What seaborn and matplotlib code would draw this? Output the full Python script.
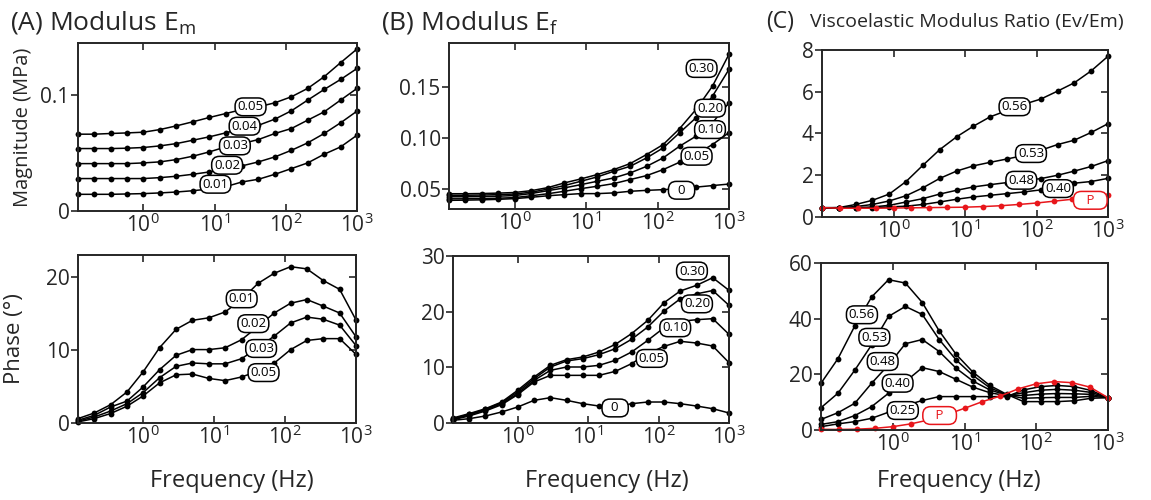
import matplotlib
matplotlib.use("Agg")
import matplotlib.pyplot as plt
import pandas as pd
import seaborn as sns
from matplotlib.ticker import NullLocator

# frequencies (Hz)
freq_ab = [0.121, 0.205, 0.349, 0.593, 1.0, 1.71, 2.92, 4.96, 8.43, 14.3,
           24.4, 41.4, 70.4, 120, 203, 346, 588, 1000]
freq_c = [0.1, 0.172, 0.296, 0.508, 0.873, 1.50, 2.58, 4.44, 7.63, 13.1,
          22.5, 38.8, 66.6, 115, 197, 338, 582, 1000]
freq_p = [0.1, 0.178, 0.316, 0.562, 1.0, 1.78, 3.16, 5.62, 10, 17.8,
          31.6, 56.2, 100, 178, 316, 562, 1000]

# (A) modulus Em
em_mag_names = ["0.01", "0.02", "0.03", "0.04", "0.05"]
em_mag = [
    [.0144, .0144, .0144, .0147, .015, .0156, .0164, .0175, .019, .021, .0251, .0274, .0317, .0366, .0415, .049, .0553, .0654],
    [.028, .028, .028, .028, .028, .0288, .030, .0317, .0337, .036, .039, .0424, .0467, .0524, .0588, .0669, .0761, .0862],
    [.0409, .0409, .0409, .0409, .0415, .0424, .0444, .0473, .051, .0553, .0582, .0617, .0669, .0712, .0784, .0856, .0957, .1058],
    [.0539, .0539, .0539, .0542, .0548, .0562, .0582, .0611, .064, .0674, .0712, .074, .0793, .0865, .0957, .1049, .1135, .123],
    [.0663, .0663, .0669, .0674, .068, .0703, .0735, .077, .0807, .0841, .0876, .0899, .0934, .0986, .1058, .1159, .128, .1398],
]
em_phase_names = ["0.01", "0.02", "0.03", "0.05"]
em_phase = [
    [.6, 1.37, 2.51, 4.25, 6.99, 10.32, 12.83, 14.06, 14.4, 15.2, 16.9, 19.1, 20.5, 21.4, 21.1, 19.5, 18.3, 14.1],
    [.37, 1.05, 2.19, 3.0, 4.93, 7.31, 9.27, 10.05, 10.05, 10.3, 11.4, 13.2, 15.06, 16.4, 16.9, 16.0, 15.06, 11.8],
    [.25, .82, 1.64, 2.65, 4.16, 6.21, 7.76, 8.22, 8.1, 8.1, 8.8, 10.3, 11.9, 13.7, 14.5, 14.2, 13.4, 10.6],
    [.15, .6, 1.3, 2.3, 3.7, 5.5, 6.6, 6.7, 6.1, 5.8, 6.3, 7.1, 8.2, 10.05, 11.3, 11.55, 11.55, 9.4],
]

# (B) modulus Ef
ef_names = ["0", "0.05", "0.10", "0.20", "0.30"]
ef_mag = [
    [.0385, .0387, .039, .0395, .0402, .0415, .043, .0441, .0451, .0451, .0458, .0474, .0483, .049, .050, .0515, .053, .0545],
    [.040, .040, .0402, .0406, .0412, .043, .045, .0474, .050, .0523, .0549, .0589, .0628, .0687, .0759, .084, .0933, .105],
    [.042, .042, .0422, .0426, .0432, .0452, .048, .0507, .0539, .0572, .0605, .0654, .0719, .0802, .0916, .1015, .1147, .1343],
    [.0435, .0435, .0437, .0441, .0447, .0465, .0495, .053, .0572, .0615, .067, .0719, .0802, .090, .1048, .1196, .1408, .1671],
    [.045, .045, .0452, .0456, .0462, .048, .051, .0556, .0595, .0638, .0687, .0746, .0835, .0933, .1088, .1278, .1507, .1819],
]
ef_phase = [
    [.48, .78, 1.26, 1.98, 2.87, 4.07, 4.55, 4.07, 3.47, 3.05, 2.9, 3.47, 3.77, 3.77, 3.47, 3.05, 2.57, 1.8],
    [.6, 1.26, 2.16, 3.29, 5.09, 7.37, 8.56, 8.56, 8.56, 8.56, 9.28, 10.66, 12.46, 13.77, 14.67, 14.37, 13.83, 10.84],
    [.66, 1.44, 2.34, 3.47, 5.27, 7.66, 9.46, 10.06, 10.06, 10.36, 11.26, 12.75, 14.85, 17.13, 18.26, 18.56, 18.74, 15.93],
    [.78, 1.56, 2.46, 3.65, 5.57, 7.96, 10.06, 11.14, 11.56, 12.28, 13.35, 15.03, 17.25, 20.12, 22.3, 23.2, 23.8, 21.14],
    [.9, 1.68, 2.57, 3.77, 5.87, 8.26, 10.36, 11.38, 11.86, 12.75, 14.13, 16.05, 18.44, 21.62, 23.71, 24.73, 26.1, 23.83],
]

# (C) viscoelastic modulus ratio
ratio_mag_names = ["0.56", "0.53", "0.48", "0.40"]
ratio_mag = [
    [.43, .45, .6, .8, 1.1, 1.7, 2.48, 3.23, 3.84, 4.35, 4.8, 5.1, 5.4, 5.65, 6.03, 6.43, 7.0, 7.7],
    [.45, .45, .5, .6, .77, 1.02, 1.4, 1.85, 2.2, 2.45, 2.62, 2.78, 2.95, 3.2, 3.47, 3.68, 4.05, 4.47],
    [.43, .43, .45, .48, .56, .72, .88, 1.1, 1.28, 1.44, 1.55, 1.65, 1.74, 1.84, 2.0, 2.2, 2.42, 2.7],
    [.43, .43, .43, .45, .48, .52, .6, .72, .85, .96, 1.04, 1.12, 1.2, 1.3, 1.45, 1.62, 1.7, 1.85],
]
ratio_mag_p = [.45, .42, .42, .42, .43, .44, .45, .46, .47, .5, .54, .6, .67, .76, .85, .93, 1.05]
ratio_phase_names = ["0.56", "0.53", "0.48", "0.40", "0.25"]
ratio_phase = [
    [16.8, 25.6, 37.4, 47.8, 54.0, 52.8, 45.8, 35.6, 27.2, 20.8, 16.0, 12.8, 10.2, 10.2, 10.2, 10.5, 11.4, 11.6],
    [8.0, 13.2, 21.5, 30.6, 40.8, 44.4, 41.5, 32.5, 25.2, 19.6, 15.2, 12.6, 11.4, 11.6, 11.7, 11.7, 12.1, 11.6],
    [3.8, 6.2, 9.6, 16.8, 23.4, 31.0, 32.5, 28.2, 22.2, 17.6, 14.4, 12.5, 12.4, 12.9, 13.1, 13.0, 12.8, 11.6],
    [2.0, 3.0, 5.2, 8.4, 13.2, 17.4, 22.4, 21.0, 18.2, 15.4, 13.4, 12.3, 13.4, 14.3, 14.6, 14.3, 13.5, 11.6],
    [1.2, 2.2, 3.0, 4.2, 6.4, 8.8, 10.6, 12.0, 12.0, 12.0, 12.0, 12.0, 14.4, 15.6, 16.0, 15.6, 14.2, 11.6],
]
ratio_phase_p = [.24, .2, .3, .6, 1.2, 2.2, 3.6, 5.5, 7.8, 10.2, 12.2, 14.8, 16.6, 17.4, 17.0, 15.4, 11.6]

xtick_vals = [1, 10, 100, 1000]
xtick_labels = [r"$10^{0}$", r"$10^{1}$", r"$10^{2}$", r"$10^{3}$"]

RED = "#e8161b"

sns.set_style("ticks")
plt.rcParams["font.family"] = ["Open Sans", "DejaVu Sans"]
plt.rcParams["mathtext.fontset"] = "custom"
plt.rcParams["mathtext.rm"] = "Open Sans"
plt.rcParams["mathtext.it"] = "Open Sans:italic"
plt.rcParams["mathtext.bf"] = "Open Sans:bold"

W, H = 1151, 500


def rect(l, r, t, b):
    return [l / W, 1 - b / H, (r - l) / W, (b - t) / H]


def draw(ax, freqs, values, names, colors):
    rows = []
    for f, v, n in zip(freqs, values, names):
        for x, y in zip(f, v):
            rows.append([x, y, n])
    df = pd.DataFrame(rows, columns=["freq", "value", "series"])
    sns.lineplot(data=df, x="freq", y="value", hue="series", palette=colors,
                 marker="o", markersize=4.2, markeredgewidth=0, linewidth=1.1,
                 estimator=None, sort=False, legend=False, ax=ax, clip_on=False)


def tag(ax, x, y, s, color="black"):
    ax.text(x, y, s, ha="center", va="center", fontsize=9.5, color=color, zorder=10,
            bbox=dict(boxstyle="round,pad=0.18,rounding_size=0.6", fc="white",
                      ec=color, lw=1.1))


def style(ax, xlim, ylim, yticks, ylabels):
    ax.set_xscale("log")
    ax.set_xlim(xlim)
    ax.set_ylim(ylim)
    ax.set_xticks(xtick_vals, labels=xtick_labels)
    ax.xaxis.set_minor_locator(NullLocator())
    ax.set_yticks(yticks, labels=ylabels)
    ax.tick_params(axis="x", direction="in", top=True, bottom=True, length=5,
                   width=1.2, pad=2, labelsize=15)
    ax.tick_params(axis="y", direction="out", left=True, right=False, length=5,
                   width=1.2, pad=1, labelsize=15)
    sec = ax.secondary_yaxis("right")
    sec.set_yticks(yticks)
    sec.tick_params(direction="in", length=5, width=1.2, labelright=False)
    for sp in list(ax.spines.values()) + list(sec.spines.values()):
        sp.set_linewidth(1.4)
    ax.set_xlabel("")
    ax.set_ylabel("")


fig = plt.figure(figsize=(W / 100, H / 100), dpi=100)

# (A) top
ax = fig.add_axes(rect(78, 357, 43, 211))
draw(ax, [freq_ab] * 5, em_mag, em_mag_names, ["black"] * 5)
style(ax, (0.121, 1000), (0, 0.145), [0, 0.1], ["0", "0.1"])
for (x, y), s in zip([(10.3, .0231), (15, .0395), (19.3, .0562), (26.4, .0732), (32, .0899)], em_mag_names):
    tag(ax, x, y, s)
ax.set_ylabel("Magnitude (MPa)", fontsize=14.5)
ax.yaxis.set_label_coords(-0.16, 0.5)

# (A) bottom
ax = fig.add_axes(rect(78, 356, 255, 423))
draw(ax, [freq_ab] * 4, em_phase, em_phase_names, ["black"] * 4)
style(ax, (0.121, 1000), (0, 23), [0, 10, 20], ["0", "10", "20"])
for (x, y), s in zip([(24.5, 17.0), (35.8, 13.6), (46, 10.2), (49.8, 6.9)], em_phase_names):
    tag(ax, x, y, s)
ax.set_ylabel("Phase (°)", fontsize=16)
ax.yaxis.set_label_coords(-0.19, 0.5)

# (B) top
ax = fig.add_axes(rect(449, 729, 43, 209))
draw(ax, [freq_ab] * 5, ef_mag, ef_names, ["black"] * 5)
style(ax, (0.121, 1000), (0.03, 0.193), [0.05, 0.10, 0.15], ["0.05", "0.10", "0.15"])
for (x, y), s in zip([(217, .0484), (352, .0818), (542, .108), (542, .129), (414, .168)], ef_names):
    tag(ax, x, y, "  0  " if s == "0" else s)

# (B) bottom
ax = fig.add_axes(rect(453, 729, 256, 423))
draw(ax, [freq_ab] * 5, ef_phase, ef_names, ["black"] * 5)
style(ax, (0.121, 1000), (0, 30), [0, 10, 20, 30], ["0", "10", "20", "30"])
for (x, y), s in zip([(24.2, 2.7), (80, 11.6), (172.6, 17.1), (351, 21.4), (298, 27.3)], ef_names):
    tag(ax, x, y, "  0  " if s == "0" else s)

# (C) top
ax = fig.add_axes(rect(822, 1108, 50, 217))
draw(ax, [freq_c] * 4 + [freq_p], ratio_mag + [ratio_mag_p],
     ratio_mag_names + ["P"], ["black"] * 4 + [RED])
style(ax, (0.1, 1000), (0, 8), [0, 2, 4, 6, 8], ["0", "2", "4", "6", "8"])
for (x, y), s in zip([(49.4, 5.28), (83.7, 3.04), (61.3, 1.76), (199.6, 1.36)], ratio_mag_names):
    tag(ax, x, y, s)
tag(ax, 566, 0.8, "   P   ", RED)

# (C) bottom
ax = fig.add_axes(rect(821, 1108, 263, 430))
draw(ax, [freq_c] * 5 + [freq_p], ratio_phase + [ratio_phase_p],
     ratio_phase_names + ["P"], ["black"] * 5 + [RED])
style(ax, (0.1, 1000), (0, 60), [0, 20, 40, 60], ["0", "20", "40", "60"])
for (x, y), s in zip([(0.372, 41.4), (0.554, 33.3), (0.724, 24.6), (1.17, 16.8), (1.38, 7.0)], ratio_phase_names):
    tag(ax, x, y, s)
tag(ax, 4.5, 5.2, "   P   ", RED)

# titles and shared x labels
fig.text(10 / W, 1 - 22 / H, r"(A) Modulus $\mathrm{E_m}$", fontsize=19, va="center")
fig.text(381 / W, 1 - 22 / H, r"(B) Modulus $\mathrm{E_f}$", fontsize=19, va="center")
fig.text(766 / W, 1 - 22 / H, "(C)", fontsize=16.5, va="center")
fig.text(810 / W, 1 - 22 / H, "Viscoelastic Modulus Ratio (Ev/Em)", fontsize=14, va="center")
for cx in [232, 607, 959]:
    fig.text(cx / W, 1 - 481 / H, "Frequency (Hz)", fontsize=17, ha="center", va="center")

fig.savefig("out.png", dpi=100)
